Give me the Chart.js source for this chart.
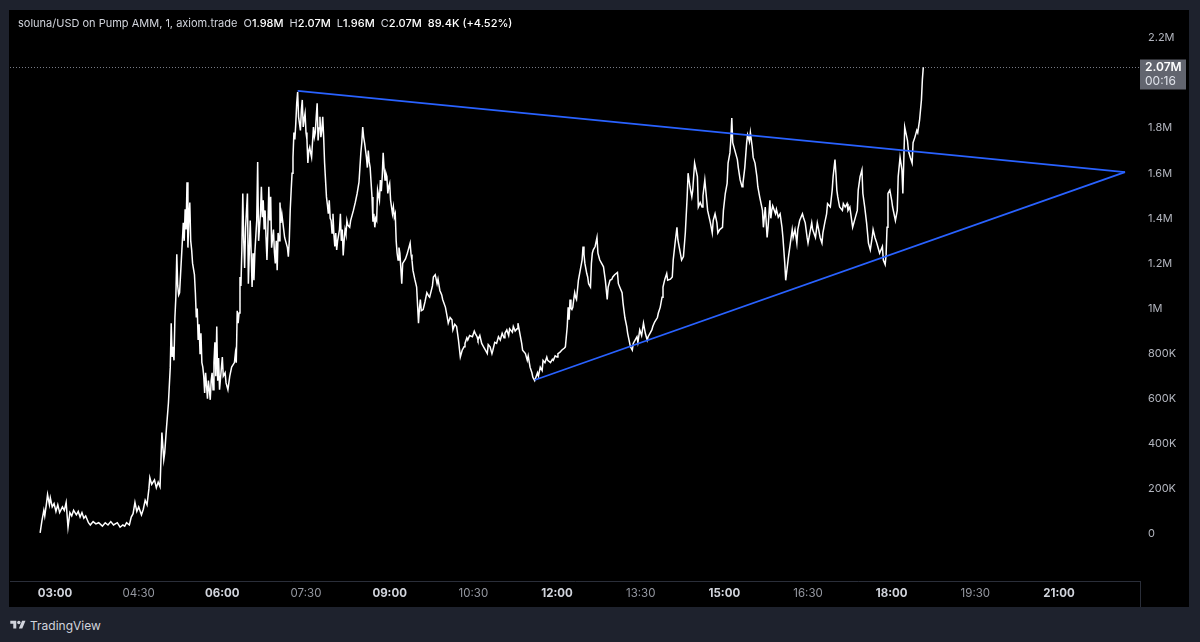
<!DOCTYPE html>
<html>
<head>
<meta charset="utf-8">
<title>soluna/USD</title>
<script src="https://cdn.jsdelivr.net/npm/chart.js@4.4.1/dist/chart.umd.min.js"></script>
<style>
    html, body { margin: 0; padding: 0; width: 1200px; height: 642px; overflow: hidden; background: #1e222d; font-family: Inter, "Noto Sans", sans-serif; }
    #panel { position: absolute; left: 9px; top: 10px; width: 1180px; height: 597px; background: #000; }
    #panel canvas { position: absolute; left: 0; top: 0; }
    #legend { position: absolute; left: 18px; top: 16px; font-size: 11px; line-height: 14px; color: #d1d4dc; white-space: nowrap; }
    #legend span { margin-left: 6px; }
    #legend b { color: #fff; font-weight: 500; }
    #brand { position: absolute; left: 10px; top: 617px; height: 16px; display: flex; align-items: center; color: #d1d4dc; font-size: 12px; }
    #brand svg { width: 16px; height: 12px; margin-right: 4px; }
</style>
</head>
<body>
<div id="panel"><canvas id="chart" width="1180" height="597"></canvas></div>
<div id="legend"></div>
<div id="brand">
    <svg viewBox="0 0 36 28"><path fill="#d1d4dc" d="M14 22H7V11H0V4h14v18zM28 22h-8l7.5-18h8L28 22z"/><circle fill="#d1d4dc" cx="20" cy="8" r="4"/></svg>
    TradingView
</div>
<script>
// 1-minute candles, sampled; time in minutes after midnight, price in thousands USD
const minutes = [
    164, 166, 168, 169, 171, 172, 174, 175, 177, 179,
    181, 183, 185, 188, 190, 192, 194, 196, 198, 200,
    203, 205, 207, 209, 211, 213, 216, 218, 221, 224,
    227, 231, 234, 237, 240, 243, 247, 250, 253, 255,
    257, 260, 262, 264, 266, 268, 270, 273, 275, 277,
    279, 281, 282, 284, 287, 289, 291, 293, 295, 297,
    298, 300, 302, 304, 305, 306, 307, 308, 309, 310,
    311, 312, 313, 314, 317, 318, 319, 320, 321, 322,
    323, 324, 325, 326, 327, 328, 330, 331, 332, 333,
    334, 335, 336, 337, 338, 339, 340, 341, 342, 344,
    345, 346, 347, 348, 349, 350, 351, 352, 353, 354,
    355, 356, 357, 360, 361, 363, 364, 366, 368, 370,
    373, 374, 375, 376, 377, 378, 379, 380, 381, 382,
    383, 384, 385, 387, 388, 389, 390, 391, 392, 393,
    394, 395, 397, 398, 399, 401, 402, 403, 404, 405,
    406, 407, 408, 409, 410, 411, 412, 413, 415, 416,
    417, 418, 419, 420, 421, 422, 423, 424, 426, 427,
    430, 431, 432, 433, 434, 435, 436, 437, 438, 439,
    440, 441, 442, 444, 445, 446, 447, 448, 449, 450,
    451, 452, 453, 454, 455, 456, 458, 459, 460, 461,
    462, 463, 464, 465, 466, 467, 468, 469, 470, 472,
    473, 474, 475, 476, 477, 478, 479, 480, 481, 482,
    483, 484, 486, 487, 488, 489, 490, 491, 492, 493,
    494, 495, 497, 498, 501, 503, 505, 507, 508, 509,
    510, 511, 512, 513, 515, 516, 517, 518, 519, 520,
    521, 522, 523, 524, 525, 526, 527, 529, 530, 531,
    532, 533, 534, 535, 536, 537, 538, 539, 540, 541,
    543, 544, 545, 546, 547, 548, 549, 550, 551, 552,
    553, 554, 557, 559, 560, 562, 563, 564, 565, 567,
    569, 571, 572, 573, 574, 576, 578, 580, 582, 583,
    586, 587, 589, 591, 592, 594, 596, 597, 600, 602,
    603, 605, 607, 608, 610, 612, 614, 616, 618, 620,
    621, 623, 624, 626, 629, 631, 632, 634, 635, 637,
    639, 641, 643, 645, 646, 648, 650, 651, 653, 655,
    657, 659, 661, 663, 664, 666, 668, 669, 672, 673,
    675, 677, 678, 680, 682, 683, 686, 688, 689, 691,
    693, 694, 696, 699, 700, 702, 704, 705, 707, 709,
    710, 713, 715, 716, 718, 720, 721, 723, 725, 728,
    729, 731, 732, 733, 734, 735, 736, 737, 738, 739,
    740, 741, 743, 745, 747, 748, 749, 750, 752, 753,
    754, 756, 757, 758, 759, 761, 763, 764, 766, 768,
    770, 772, 774, 775, 777, 779, 780, 782, 785, 786,
    788, 790, 791, 793, 795, 796, 799, 801, 802, 804,
    806, 807, 809, 811, 813, 815, 817, 818, 820, 822,
    823, 825, 828, 829, 831, 833, 834, 836, 838, 839,
    842, 844, 845, 847, 849, 850, 852, 854, 856, 858,
    860, 861, 863, 865, 866, 868, 871, 872, 874, 876,
    877, 879, 881, 882, 885, 887, 888, 890, 892, 893,
    895, 898, 899, 901, 903, 904, 906, 907, 908, 909,
    912, 914, 915, 917, 919, 920, 922, 924, 925, 927,
    928, 930, 931, 933, 935, 936, 938, 941, 942, 944,
    946, 947, 949, 950, 951, 952, 955, 956, 958, 960,
    962, 963, 965, 966, 969, 971, 973, 974, 976, 978,
    979, 981, 984, 985, 987, 989, 990, 992, 994, 995,
    998, 1000, 1001, 1003, 1005, 1006, 1008, 1010, 1011, 1014,
    1016, 1017, 1019, 1020, 1021, 1022, 1024, 1027, 1028, 1030,
    1032, 1033, 1035, 1037, 1038, 1041, 1043, 1044, 1046, 1048,
    1049, 1051, 1053, 1055, 1057, 1059, 1060, 1062, 1064, 1065,
    1067, 1070, 1071, 1073, 1074, 1075, 1076, 1078, 1080, 1081,
    1084, 1086, 1087, 1089, 1091, 1092, 1093, 1094, 1097, 1098,
    1100, 1102, 1103, 1105, 1107, 1108, 1110, 1112, 1113, 1114
];
const prices = [
    5, 60, 105, 80, 140, 175, 130, 160, 120, 135,
    100, 130, 95, 120, 105, 140, 30, 95, 80, 105,
    85, 100, 75, 95, 70, 80, 50, 40, 55, 45,
    50, 35, 50, 40, 55, 40, 50, 30, 40, 35,
    50, 40, 75, 90, 140, 100, 120, 85, 110, 150,
    130, 200, 250, 220, 240, 205, 230, 210, 450, 330,
    360, 475, 580, 740, 935, 785, 830, 770, 960, 1050,
    1240, 1100, 1060, 1070, 1300, 1380, 1300, 1440, 1350, 1560,
    1270, 1400, 1470, 1300, 1260, 1200, 1150, 1070, 960, 1000,
    860, 930, 800, 890, 760, 740, 700, 625, 715, 600,
    680, 640, 595, 680, 715, 640, 760, 850, 700, 920,
    680, 780, 640, 785, 700, 715, 670, 640, 700, 740,
    760, 800, 760, 990, 935, 980, 1140, 1100, 1260, 1510,
    1300, 1180, 1360, 1510, 1110, 1250, 1390, 1250, 1095, 1245,
    1125, 1250, 1390, 1650, 1300, 1420, 1540, 1405, 1480, 1350,
    1435, 1315, 1215, 1350, 1540, 1390, 1495, 1270, 1350, 1250,
    1200, 1300, 1170, 1335, 1300, 1470, 1380, 1420, 1350, 1315,
    1270, 1230, 1300, 1435, 1520, 1600, 1670, 1780, 1750, 1820,
    1910, 1960, 1850, 1790, 1880, 1925, 1805, 1840, 1865, 1780,
    1750, 1645, 1700, 1715, 1690, 1670, 1805, 1760, 1780, 1850,
    1910, 1745, 1800, 1850, 1760, 1790, 1850, 1760, 1645, 1495,
    1460, 1420, 1480, 1400, 1390, 1335, 1420, 1330, 1275, 1335,
    1260, 1300, 1350, 1420, 1300, 1350, 1235, 1300, 1350, 1330,
    1390, 1370, 1360, 1390, 1435, 1470, 1510, 1560, 1625, 1690,
    1735, 1805, 1760, 1735, 1670, 1625, 1700, 1650, 1625, 1560,
    1495, 1385, 1420, 1360, 1400, 1390, 1525, 1480, 1570, 1520,
    1585, 1690, 1620, 1570, 1600, 1585, 1510, 1540, 1555, 1480,
    1420, 1450, 1405, 1420, 1300, 1245, 1215, 1270, 1245, 1180,
    1110, 1200, 1220, 1245, 1260, 1290, 1240, 1215, 1170, 1130,
    1095, 935, 1000, 1040, 990, 995, 1030, 1070, 1055, 1050,
    1100, 1140, 1150, 1110, 1130, 1080, 1060, 1040, 1005, 960,
    935, 960, 950, 905, 930, 920, 860, 785, 815, 830,
    845, 870, 860, 880, 875, 900, 890, 875, 860, 880,
    845, 830, 815, 800, 840, 830, 800, 815, 850, 845,
    875, 860, 890, 870, 890, 905, 880, 910, 895, 920,
    900, 910, 935, 890, 845, 815, 800, 770, 790, 740,
    715, 695, 680, 715, 700, 740, 725, 770, 760, 785,
    770, 760, 775, 770, 790, 785, 800, 805, 815, 825,
    830, 920, 1005, 950, 1040, 1000, 995, 1005, 1040, 1070,
    1050, 1040, 1125, 1170, 1215, 1275, 1240, 1200, 1155, 1140,
    1110, 1095, 1200, 1245, 1260, 1275, 1315, 1245, 1215, 1200,
    1185, 1125, 1040, 1095, 1125, 1130, 1140, 1150, 1160, 1110,
    1090, 1070, 1025, 960, 920, 890, 830, 815, 845, 860,
    875, 850, 905, 880, 935, 890, 860, 875, 890, 905,
    920, 940, 960, 980, 1005, 1050, 1095, 1130, 1155, 1125,
    1130, 1140, 1215, 1290, 1360, 1305, 1260, 1215, 1230, 1335,
    1495, 1600, 1540, 1495, 1525, 1645, 1585, 1450, 1470, 1450,
    1500, 1570, 1480, 1435, 1380, 1335, 1390, 1420, 1380, 1335,
    1350, 1360, 1435, 1510, 1555, 1645, 1690, 1750, 1845, 1735,
    1690, 1660, 1625, 1570, 1540, 1555, 1625, 1735, 1770, 1740,
    1780, 1715, 1670, 1645, 1585, 1540, 1495, 1435, 1360, 1450,
    1315, 1360, 1480, 1400, 1435, 1455, 1420, 1440, 1405, 1420,
    1360, 1315, 1200, 1125, 1230, 1290, 1350, 1315, 1350, 1290,
    1350, 1390, 1420, 1405, 1380, 1315, 1290, 1335, 1380, 1350,
    1315, 1380, 1360, 1315, 1290, 1335, 1380, 1420, 1465, 1450,
    1525, 1585, 1660, 1600, 1525, 1495, 1450, 1435, 1465, 1450,
    1465, 1435, 1450, 1390, 1360, 1405, 1435, 1525, 1585, 1615,
    1510, 1450, 1380, 1290, 1260, 1315, 1350, 1315, 1290, 1275,
    1245, 1275, 1215, 1195, 1240, 1360, 1510, 1525, 1480, 1450,
    1390, 1435, 1585, 1670, 1615, 1510, 1655, 1805, 1745, 1700,
    1670, 1645, 1735, 1760, 1790, 1780, 1835, 1925, 2015, 2070
];

// trend lines drawn on the chart (start and end anchor)
const upperTrendMinutes = [441, 1331];
const upperTrendPrices = [1965, 1605];
const lowerTrendMinutes = [696, 1331];
const lowerTrendPrices = [683, 1605];

const timeTicks = [180, 270, 360, 450, 540, 630, 720, 810, 900, 990, 1080, 1170, 1260];
const priceTicks = [0, 200, 400, 600, 800, 1000, 1200, 1400, 1600, 1800, 2000, 2200];

const lastOpen = 1980, lastHigh = 2070, lastLow = 1960, lastClose = 2070;
const change = 89.4, changePct = 4.52;
const countdown = '00:16';

const FONT = 'Inter, "Noto Sans", sans-serif';

function fmtPrice(v) {
    if (v === 0) return '0';
    if (v >= 1000) return (v / 1000) + 'M';
    return v + 'K';
}

function fmtTime(m) {
    const h = Math.floor(m / 60), mm = m % 60;
    return String(h).padStart(2, '0') + ':' + String(mm).padStart(2, '0');
}

document.getElementById('legend').innerHTML =
    'soluna/USD on Pump AMM, 1, axiom.trade' +
    `<span>O<b>${(lastOpen / 1000).toFixed(2)}M</b></span>` +
    `<span>H<b>${(lastHigh / 1000).toFixed(2)}M</b></span>` +
    `<span>L<b>${(lastLow / 1000).toFixed(2)}M</b></span>` +
    `<span>C<b>${(lastClose / 1000).toFixed(2)}M</b></span>` +
    `<span><b>${change}K (+${changePct}%)</b></span>`;

const priceLabel = {
    id: 'priceLabel',
    afterDatasetsDraw(chart) {
        const { ctx, chartArea, scales } = chart;
        const y = Math.round(scales.y.getPixelForValue(lastClose)) + 0.5;
        ctx.save();
        ctx.strokeStyle = '#787b86';
        ctx.lineWidth = 1;
        ctx.setLineDash([1, 2]);
        ctx.beginPath();
        ctx.moveTo(chartArea.left, y);
        ctx.lineTo(chartArea.right, y);
        ctx.stroke();
        ctx.setLineDash([]);

        // corner separator under the price axis
        ctx.strokeStyle = '#2a2e39';
        ctx.beginPath();
        ctx.moveTo(chartArea.right + 0.5, chartArea.bottom);
        ctx.lineTo(chartArea.right + 0.5, chart.height);
        ctx.stroke();

        const bx = chartArea.right, by = y - 8;
        ctx.fillStyle = '#62656f';
        ctx.fillRect(bx, by, 46, 30);
        ctx.fillStyle = '#ffffff';
        ctx.textAlign = 'left';
        ctx.textBaseline = 'middle';
        ctx.font = '600 12px ' + FONT;
        ctx.fillText((lastClose / 1000).toFixed(2) + 'M', bx + 5, by + 8);
        ctx.fillStyle = '#e0e3eb';
        ctx.font = '12px ' + FONT;
        ctx.fillText(countdown, bx + 5, by + 22);
        ctx.restore();
    }
};

new Chart(document.getElementById('chart'), {
    type: 'line',
    data: {
        datasets: [
            {
                data: upperTrendMinutes.map((m, i) => ({ x: m, y: upperTrendPrices[i] })),
                borderColor: '#2962ff',
                borderWidth: 1.8,
                pointRadius: 0,
                order: 0
            },
            {
                data: lowerTrendMinutes.map((m, i) => ({ x: m, y: lowerTrendPrices[i] })),
                borderColor: '#2962ff',
                borderWidth: 1.8,
                pointRadius: 0,
                order: 0
            },
            {
                data: minutes.map((m, i) => ({ x: m, y: prices[i] })),
                borderColor: '#ffffff',
                borderWidth: 1.5,
                pointRadius: 0,
                tension: 0,
                order: 1
            }
        ]
    },
    options: {
        responsive: false,
        animation: false,
        events: [],
        layout: { padding: { left: 1, top: 0, right: 0, bottom: 0 } },
        plugins: { legend: { display: false }, tooltip: { enabled: false } },
        scales: {
            x: {
                type: 'linear',
                min: 131.6,
                max: 1347.1,
                grid: { display: false, drawTicks: false },
                border: { display: true, color: '#2a2e39', width: 1 },
                afterFit: s => { s.height = 26; },
                afterBuildTicks: s => { s.ticks = timeTicks.map(v => ({ value: v })); },
                ticks: {
                    padding: 6,
                    maxRotation: 0,
                    autoSkip: false,
                    callback: v => fmtTime(v),
                    color: c => (c.tick && c.tick.value % 180 === 0) ? '#d1d4dc' : '#9598a1',
                    font: c => ({
                        family: FONT,
                        size: 11.5,
                        weight: (c.tick && c.tick.value % 180 === 0) ? 'bold' : 'normal'
                    })
                }
            },
            y: {
                position: 'right',
                min: -208.4,
                max: 2323.7,
                grid: { display: false, drawTicks: false },
                border: { display: false },
                afterFit: s => { s.width = 49; s.paddingTop = 0; s.paddingBottom = 0; },
                afterBuildTicks: s => { s.ticks = priceTicks.map(v => ({ value: v })); },
                ticks: {
                    padding: 8,
                    color: '#b2b5be',
                    font: { family: FONT, size: 11 },
                    callback: v => fmtPrice(v)
                }
            }
        }
    },
    plugins: [priceLabel]
});
</script>
</body>
</html>
